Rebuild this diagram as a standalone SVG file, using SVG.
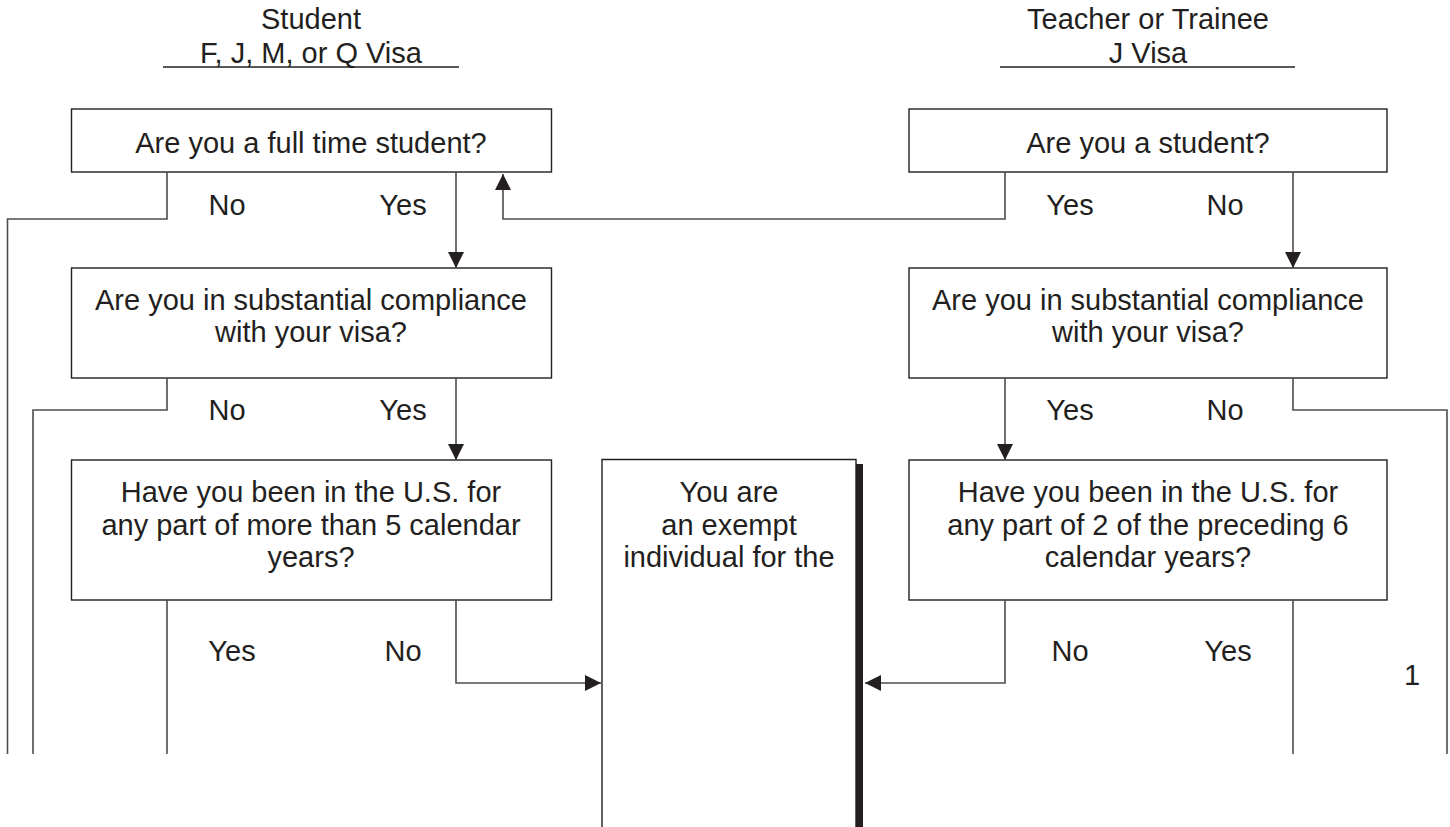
<svg xmlns="http://www.w3.org/2000/svg" width="1450" height="827" viewBox="0 0 1450 827">
<style>
text{font-family:"Liberation Sans",Arial,Helvetica,sans-serif;font-size:29px;fill:#231f20;text-anchor:middle}
.box{fill:#fff;stroke:#231f20;stroke-width:1.4}
.hdr{stroke:#231f20;stroke-width:1.4}
.c{fill:none;stroke:#4d4d4d;stroke-width:1.6}
.a{marker-end:url(#ah)}
</style>
<defs>
<marker id="ah" markerUnits="userSpaceOnUse" markerWidth="17" markerHeight="17" viewBox="0 0 17 17" refX="16" refY="8" orient="auto">
<path d="M0,0 L16,8 L0,16 z" fill="#231f20"/>
</marker>
</defs>
<rect width="1450" height="827" fill="#fff"/>
<g id="header-student">
<text x="311" y="29">Student</text>
<text x="311" y="63">F, J, M, or Q Visa</text>
<line class="hdr" x1="163" y1="67" x2="459" y2="67"/>
</g>
<g id="header-teacher">
<text x="1148" y="29">Teacher or Trainee</text>
<text x="1148" y="63">J Visa</text>
<line class="hdr" x1="1000" y1="67" x2="1295" y2="67"/>
</g>
<g id="q-fulltime">
<rect class="box" x="71.5" y="109" width="480" height="63"/>
<text x="311" y="153">Are you a full time student?</text>
</g>
<g id="q-student">
<rect class="box" x="909" y="109" width="478" height="63"/>
<text x="1148" y="153">Are you a student?</text>
</g>
<g id="q-compliance-left">
<rect class="box" x="71.5" y="268" width="480" height="110"/>
<text x="311" y="310">Are you in substantial compliance</text>
<text x="311" y="342">with your visa?</text>
</g>
<g id="q-compliance-right">
<rect class="box" x="909" y="268" width="478" height="110"/>
<text x="1148" y="310">Are you in substantial compliance</text>
<text x="1148" y="342">with your visa?</text>
</g>
<g id="q-years-left">
<rect class="box" x="71.5" y="460" width="480" height="140"/>
<text x="311" y="502">Have you been in the U.S. for</text>
<text x="311" y="535">any part of more than 5 calendar</text>
<text x="311" y="567">years?</text>
</g>
<g id="q-years-right">
<rect class="box" x="909" y="460" width="478" height="140"/>
<text x="1148" y="502">Have you been in the U.S. for</text>
<text x="1148" y="535">any part of 2 of the preceding 6</text>
<text x="1148" y="567">calendar years?</text>
</g>
<g id="exempt">
<path d="M602,840 V459.5 H856 V840" fill="#fff" stroke="#231f20" stroke-width="1.4"/>
<rect x="856" y="464" width="7" height="380" fill="#231f20"/>
<text x="729" y="502">You are</text>
<text x="729" y="535">an exempt</text>
<text x="729" y="567">individual for the</text>
</g>
<g id="labels">
<text x="227" y="215">No</text>
<text x="403" y="215">Yes</text>
<text x="1070" y="215">Yes</text>
<text x="1225" y="215">No</text>
<text x="227" y="420">No</text>
<text x="403" y="420">Yes</text>
<text x="1070" y="420">Yes</text>
<text x="1225" y="420">No</text>
<text x="232" y="661">Yes</text>
<text x="403" y="661">No</text>
<text x="1070" y="661">No</text>
<text x="1228" y="661">Yes</text>
<text x="1412" y="685">1</text>
</g>
<g id="connectors">
<path class="c" d="M167,172 V219 H7.5 V754"/>
<path class="c a" d="M456,172 V268"/>
<path class="c a" d="M1005,172 V219 H503 V174"/>
<path class="c a" d="M1293,172 V268"/>
<path class="c" d="M167,378 V410 H33 V754"/>
<path class="c a" d="M456,378 V460"/>
<path class="c a" d="M1005,378 V460"/>
<path class="c" d="M1293,378 V410 H1447 V754"/>
<path class="c" d="M167,600 V754"/>
<path class="c a" d="M456,600 V683 H601"/>
<path class="c a" d="M1005,600 V683 H865"/>
<path class="c" d="M1293,600 V754"/>
</g>
</svg>
